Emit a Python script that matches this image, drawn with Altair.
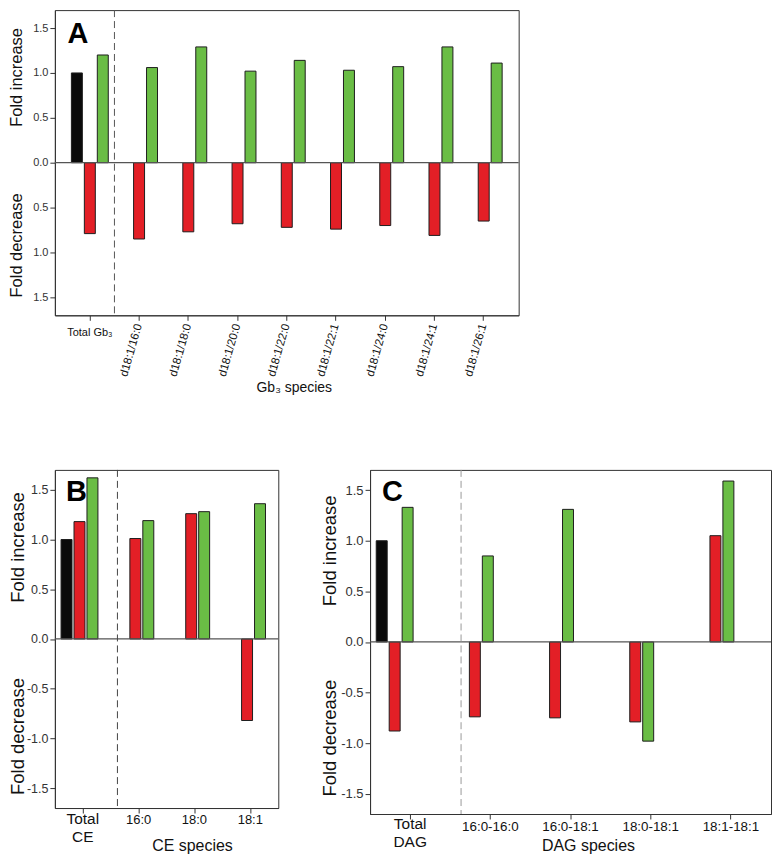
import altair as alt
import pandas as pd

FONT = "Liberation Sans"
BLACK = "#0a0a0a"
RED = "#e31f26"
GREEN = "#6abd45"
SERIES = ["Control", "Treatment 1", "Treatment 2"]

# ---------------- data ----------------
A_cats = ["Total Gb₃", "d18:1/16:0", "d18:1/18:0", "d18:1/20:0", "d18:1/22:0",
          "d18:1/22:1", "d18:1/24:0", "d18:1/24:1", "d18:1/26:1"]
A_ctrl = [1.00, None, None, None, None, None, None, None, None]
A_red = [-0.79, -0.85, -0.77, -0.68, -0.72, -0.74, -0.70, -0.81, -0.65]
A_green = [1.20, 1.06, 1.29, 1.02, 1.14, 1.03, 1.07, 1.29, 1.11]

B_cats = ["Total CE", "16:0", "18:0", "18:1"]
B_labels = ["Total\nCE", "16:0", "18:0", "18:1"]
B_ctrl = [1.00, None, None, None]
B_red = [1.18, 1.01, 1.26, -0.82]
B_green = [1.62, 1.19, 1.28, 1.36]

C_cats = ["Total DAG", "16:0-16:0", "16:0-18:1", "18:0-18:1", "18:1-18:1"]
C_labels = ["Total\nDAG", "16:0-16:0", "16:0-18:1", "18:0-18:1", "18:1-18:1"]
C_ctrl = [1.00, None, None, None, None]
C_red = [-0.88, -0.74, -0.75, -0.79, 1.05]
C_green = [1.33, 0.85, 1.31, -0.98, 1.59]

Y_TICKS = [-1.5, -1.0, -0.5, 0.0, 0.5, 1.0, 1.5]
YMIN, YMAX = -1.7, 1.7


def bars_df(cats, ctrl, red, green):
    rows = []
    for i, c in enumerate(cats):
        if ctrl[i] is not None:
            rows.append(dict(cat=c, series=SERIES[0], value=ctrl[i]))
        rows.append(dict(cat=c, series=SERIES[1], value=red[i]))
        rows.append(dict(cat=c, series=SERIES[2], value=green[i]))
    return pd.DataFrame(rows)


def ypx(v, h):
    return h * (YMAX - v) / (YMAX - YMIN)


def panel(cats, labels, ctrl, red, green, w, h, x_po, off_pi, off_po,
          abs_labels, ylab_size, ytitle_size, ytitle_x, ytitle_v,
          letter, letter_y, rotated, total_size, total_y, species_size,
          species_half, species_y, dash_bp, dash_color,
          xtitle, xtitle_x, xtitle_y, xtitle_size):
    df = bars_df(cats, ctrl, red, green)
    xscale = alt.Scale(domain=cats, paddingInner=0, paddingOuter=x_po)
    xaxis = alt.Axis(labels=False, title=None, tickSize=5, ticks=True,
                     domain=True, grid=False)
    if abs_labels:
        lexpr = "format(abs(datum.value), '.1f')"
    else:
        lexpr = "(datum.value < 0 ? '-' : '') + format(abs(datum.value), '.1f')"
    yscale = alt.Scale(domain=[YMIN, YMAX], nice=False, zero=False)
    yaxis = alt.Axis(values=Y_TICKS, labelExpr=lexpr, grid=False, title=None,
                     tickSize=5, labelFontSize=ylab_size, labelPadding=2,
                     labelColor="#333")

    def X(**kw):
        return alt.X("cat:N", sort=cats, scale=xscale, axis=xaxis, **kw)

    base = alt.Chart(df)
    bars = base.mark_bar(stroke="#1e1e1e", strokeWidth=1).encode(
        x=X(),
        xOffset=alt.XOffset("series:N", scale=alt.Scale(
            domain=SERIES, paddingInner=off_pi, paddingOuter=off_po)),
        y=alt.Y("value:Q", scale=yscale, axis=yaxis),
        color=alt.Color("series:N", scale=alt.Scale(
            domain=SERIES, range=[BLACK, RED, GREEN]), legend=None),
    )
    zero = alt.Chart(pd.DataFrame({"z": [0]})).mark_rule(
        color="#555", strokeWidth=1.2).encode(y=alt.Y("z:Q", scale=yscale, axis=yaxis))
    dash = alt.Chart(pd.DataFrame({"cat": [cats[1]]})).mark_rule(
        color=dash_color, strokeDash=[7, 4], strokeWidth=1).encode(
        x=X(bandPosition=dash_bp))

    lab_df = pd.DataFrame({"cat": cats, "label": labels})
    total_lab = alt.Chart(lab_df.iloc[:1]).mark_text(
        font=FONT, fontSize=total_size, baseline="top", align="center",
        lineBreak="\n", lineHeight=total_size * 1.19, color="#111").encode(
        x=X(), y=alt.value(h + total_y), text="label:N")
    if rotated:
        sp_lab = alt.Chart(lab_df.iloc[1:]).mark_text(
            font=FONT, fontSize=species_size, angle=286, align="right",
            baseline="middle", color="#111").encode(
            x=X(), y=alt.value(h + species_y), text="label:N")
    else:
        # anchored at the right end so the label box never spills past the frame
        sp_lab = alt.Chart(lab_df.iloc[1:]).mark_text(
            font=FONT, fontSize=species_size, baseline="top", align="right",
            dx=species_half, color="#111").encode(
            x=X(), y=alt.value(h + species_y), text="label:N")

    # y titles anchored at their outer ends (text runs towards the zero line)
    inc_len = 6.00 * ytitle_size
    dec_len = 6.34 * ytitle_size
    ttl_df = pd.DataFrame({"t": ["Fold increase"],
                           "py": [ypx(ytitle_v[0], h) - inc_len / 2]})
    ttl_df2 = pd.DataFrame({"t": ["Fold decrease"],
                            "py": [ypx(ytitle_v[1], h) + dec_len / 2]})
    yt_inc = alt.Chart(ttl_df).mark_text(
        font=FONT, fontSize=ytitle_size, angle=270, align="right",
        baseline="middle", color="#111").encode(
        x=alt.value(ytitle_x), y=alt.Y("py:Q", scale=None), text="t:N")
    yt_dec = alt.Chart(ttl_df2).mark_text(
        font=FONT, fontSize=ytitle_size, angle=270, align="left",
        baseline="middle", color="#111").encode(
        x=alt.value(ytitle_x), y=alt.Y("py:Q", scale=None), text="t:N")

    let = alt.Chart(pd.DataFrame({"t": [letter]})).mark_text(
        font=FONT, fontSize=29, fontWeight="bold", align="center",
        baseline="alphabetic", color="#000").encode(
        x=alt.value(letter_y[0]), y=alt.value(letter_y[1]), text="t:N")

    xt = alt.Chart(pd.DataFrame({"t": [xtitle]})).mark_text(
        font=FONT, fontSize=xtitle_size, align="center", baseline="middle",
        color="#111").encode(
        x=alt.value(xtitle_x), y=alt.value(xtitle_y), text="t:N")

    return alt.layer(bars, zero, dash, total_lab, sp_lab, yt_inc, yt_dec,
                     let, xt).properties(width=w, height=h)


A = panel(A_cats, A_cats, A_ctrl, A_red, A_green, w=465, h=306, x_po=0.21,
          off_pi=0.154, off_po=0.477, abs_labels=True, ylab_size=11,
          ytitle_size=16.5, ytitle_x=-38, ytitle_v=(0.95, -0.92),
          letter="A", letter_y=(23, 33), rotated=True, total_size=11,
          total_y=12, species_size=11.5, species_half=0, species_y=9,
          dash_bp=0, dash_color="#555",
          xtitle="Gb₃ species", xtitle_x=240, xtitle_y=379, xtitle_size=14)

B = panel(B_cats, B_labels, B_ctrl, B_red, B_green, w=224, h=339, x_po=0,
          off_pi=0.153, off_po=0.497, abs_labels=False, ylab_size=12.5,
          ytitle_size=18.5, ytitle_x=-37, ytitle_v=(0.92, -0.98),
          letter="B", letter_y=(21.5, 31), rotated=False, total_size=15.5,
          total_y=4, species_size=13, species_half=12.6, species_y=6.5,
          dash_bp=0.12, dash_color="#444",
          xtitle="CE species", xtitle_x=138, xtitle_y=377, xtitle_size=16)

C = panel(C_cats, C_labels, C_ctrl, C_red, C_green, w=402, h=345, x_po=0,
          off_pi=0.18, off_po=0.462, abs_labels=False, ylab_size=13,
          ytitle_size=18.5, ytitle_x=-40, ytitle_v=(0.9, -0.95),
          letter="C", letter_y=(22.5, 31), rotated=False, total_size=15.5,
          total_y=3, species_size=13.4, species_half=28.3, species_y=6,
          dash_bp=0.135, dash_color="#999",
          xtitle="DAG species", xtitle_x=219, xtitle_y=377, xtitle_size=16)

chart = alt.vconcat(
    A,
    alt.hconcat(B, C, spacing=40),
    spacing=73,
).properties(
    padding={"left": 0, "top": 0, "right": 0, "bottom": 0}
).configure_view(
    stroke="#333", strokeWidth=1
).configure_axis(
    domainColor="#333", tickColor="#333", labelFont=FONT
).configure_text(font=FONT)

chart.save("out.html", embed_options={"renderer": "svg", "actions": False})
